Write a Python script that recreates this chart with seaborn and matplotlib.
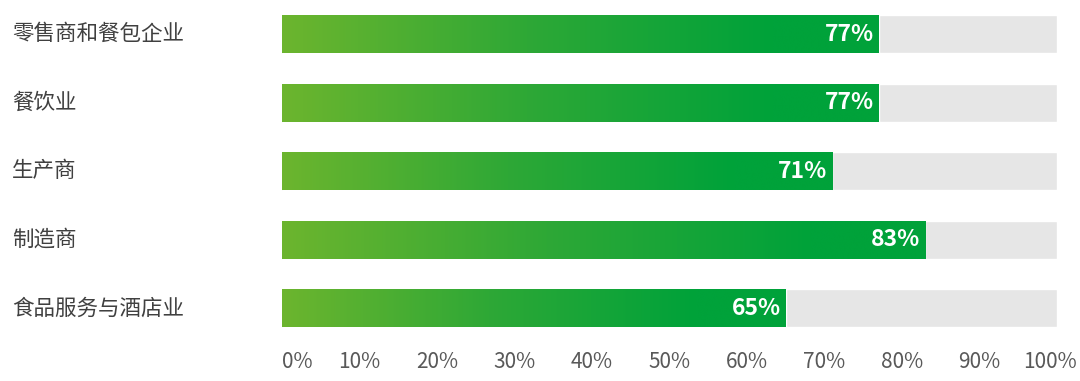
import numpy as np
import pandas as pd
import matplotlib
matplotlib.use('Agg')
import matplotlib.pyplot as plt
import seaborn as sbn
from matplotlib.colors import LinearSegmentedColormap
from matplotlib.transforms import blended_transform_factory

categories = ['零售商和餐包企业', '餐饮业', '生产商', '制造商', '食品服务与酒店业']
values = [77, 77, 71, 83, 65]
ticks = [0, 10, 20, 30, 40, 50, 60, 70, 80, 90, 100]
tick_labels = ['{0}%'.format(t) for t in ticks]

sbn.set_style('white')
plt.rcParams['font.family'] = ['Noto Sans CJK SC', 'DejaVu Sans']

df = pd.DataFrame({'cat': categories, 'val': values, 'full': [100] * len(values)})

fig = plt.figure(figsize=(10.8, 3.81), dpi=100)
ax = fig.add_axes([282 / 1080, 0.101, 775 / 1080, 0.899])

# grey track then the green bars on top
sbn.barplot(data=df, x='full', y='cat', color='#e6e6e6', width=0.555,
            saturation=1, orient='h', ax=ax)
sbn.barplot(data=df, x='val', y='cat', color='#00a23a', width=0.555,
            saturation=1, orient='h', ax=ax)

green = LinearSegmentedColormap.from_list('g', ['#6cb52e', '#2ea836', '#00a23a'])
grad = np.linspace(0, 1, 256)
grad = np.clip(grad / 0.82, 0, 1).reshape(1, -1)
n = len(categories)
for p in ax.patches[n:]:
    x0, y0 = p.get_x(), p.get_y()
    w, h = p.get_width(), p.get_height()
    im = ax.imshow(grad, cmap=green, aspect='auto', extent=(x0, x0 + w, y0 + h, y0),
                   zorder=p.get_zorder() + 0.1, interpolation='bicubic')
    im.set_clip_path(p)

for i, v in enumerate(values):
    ax.text(v - 0.6, i, '{0}%'.format(v), ha='right', va='center', color='white',
            fontsize=16.5, fontweight='bold', zorder=10)

ax.set_xlim(0, 100)
ax.set_ylim(n - 0.5, -0.5)
ax.set_xticks(ticks[:-1])
ax.set_xticklabels(tick_labels[:-1], fontsize=15, color='#595959')
ax.get_xticklabels()[0].set_ha('left')
ax.tick_params(axis='x', length=0, pad=6)
# last label drawn by hand so it can sit a little right of the track end
ax.annotate(tick_labels[-1], xy=(ticks[-1], 0), xycoords=('data', 'axes fraction'),
            xytext=(14, -6), textcoords='offset points', ha='right', va='top',
            fontsize=15, color='#595959', annotation_clip=False)
ax.set_yticks([])
ax.set_xlabel('')
ax.set_ylabel('')
for s in ax.spines.values():
    s.set_visible(False)

trans = blended_transform_factory(fig.transFigure, ax.transData)
for i, c in enumerate(categories):
    ax.text(12 / 1080, i, c, transform=trans, ha='left', va='center',
            fontsize=15.5, color='#404040')

fig.savefig('out.png', dpi=100)
